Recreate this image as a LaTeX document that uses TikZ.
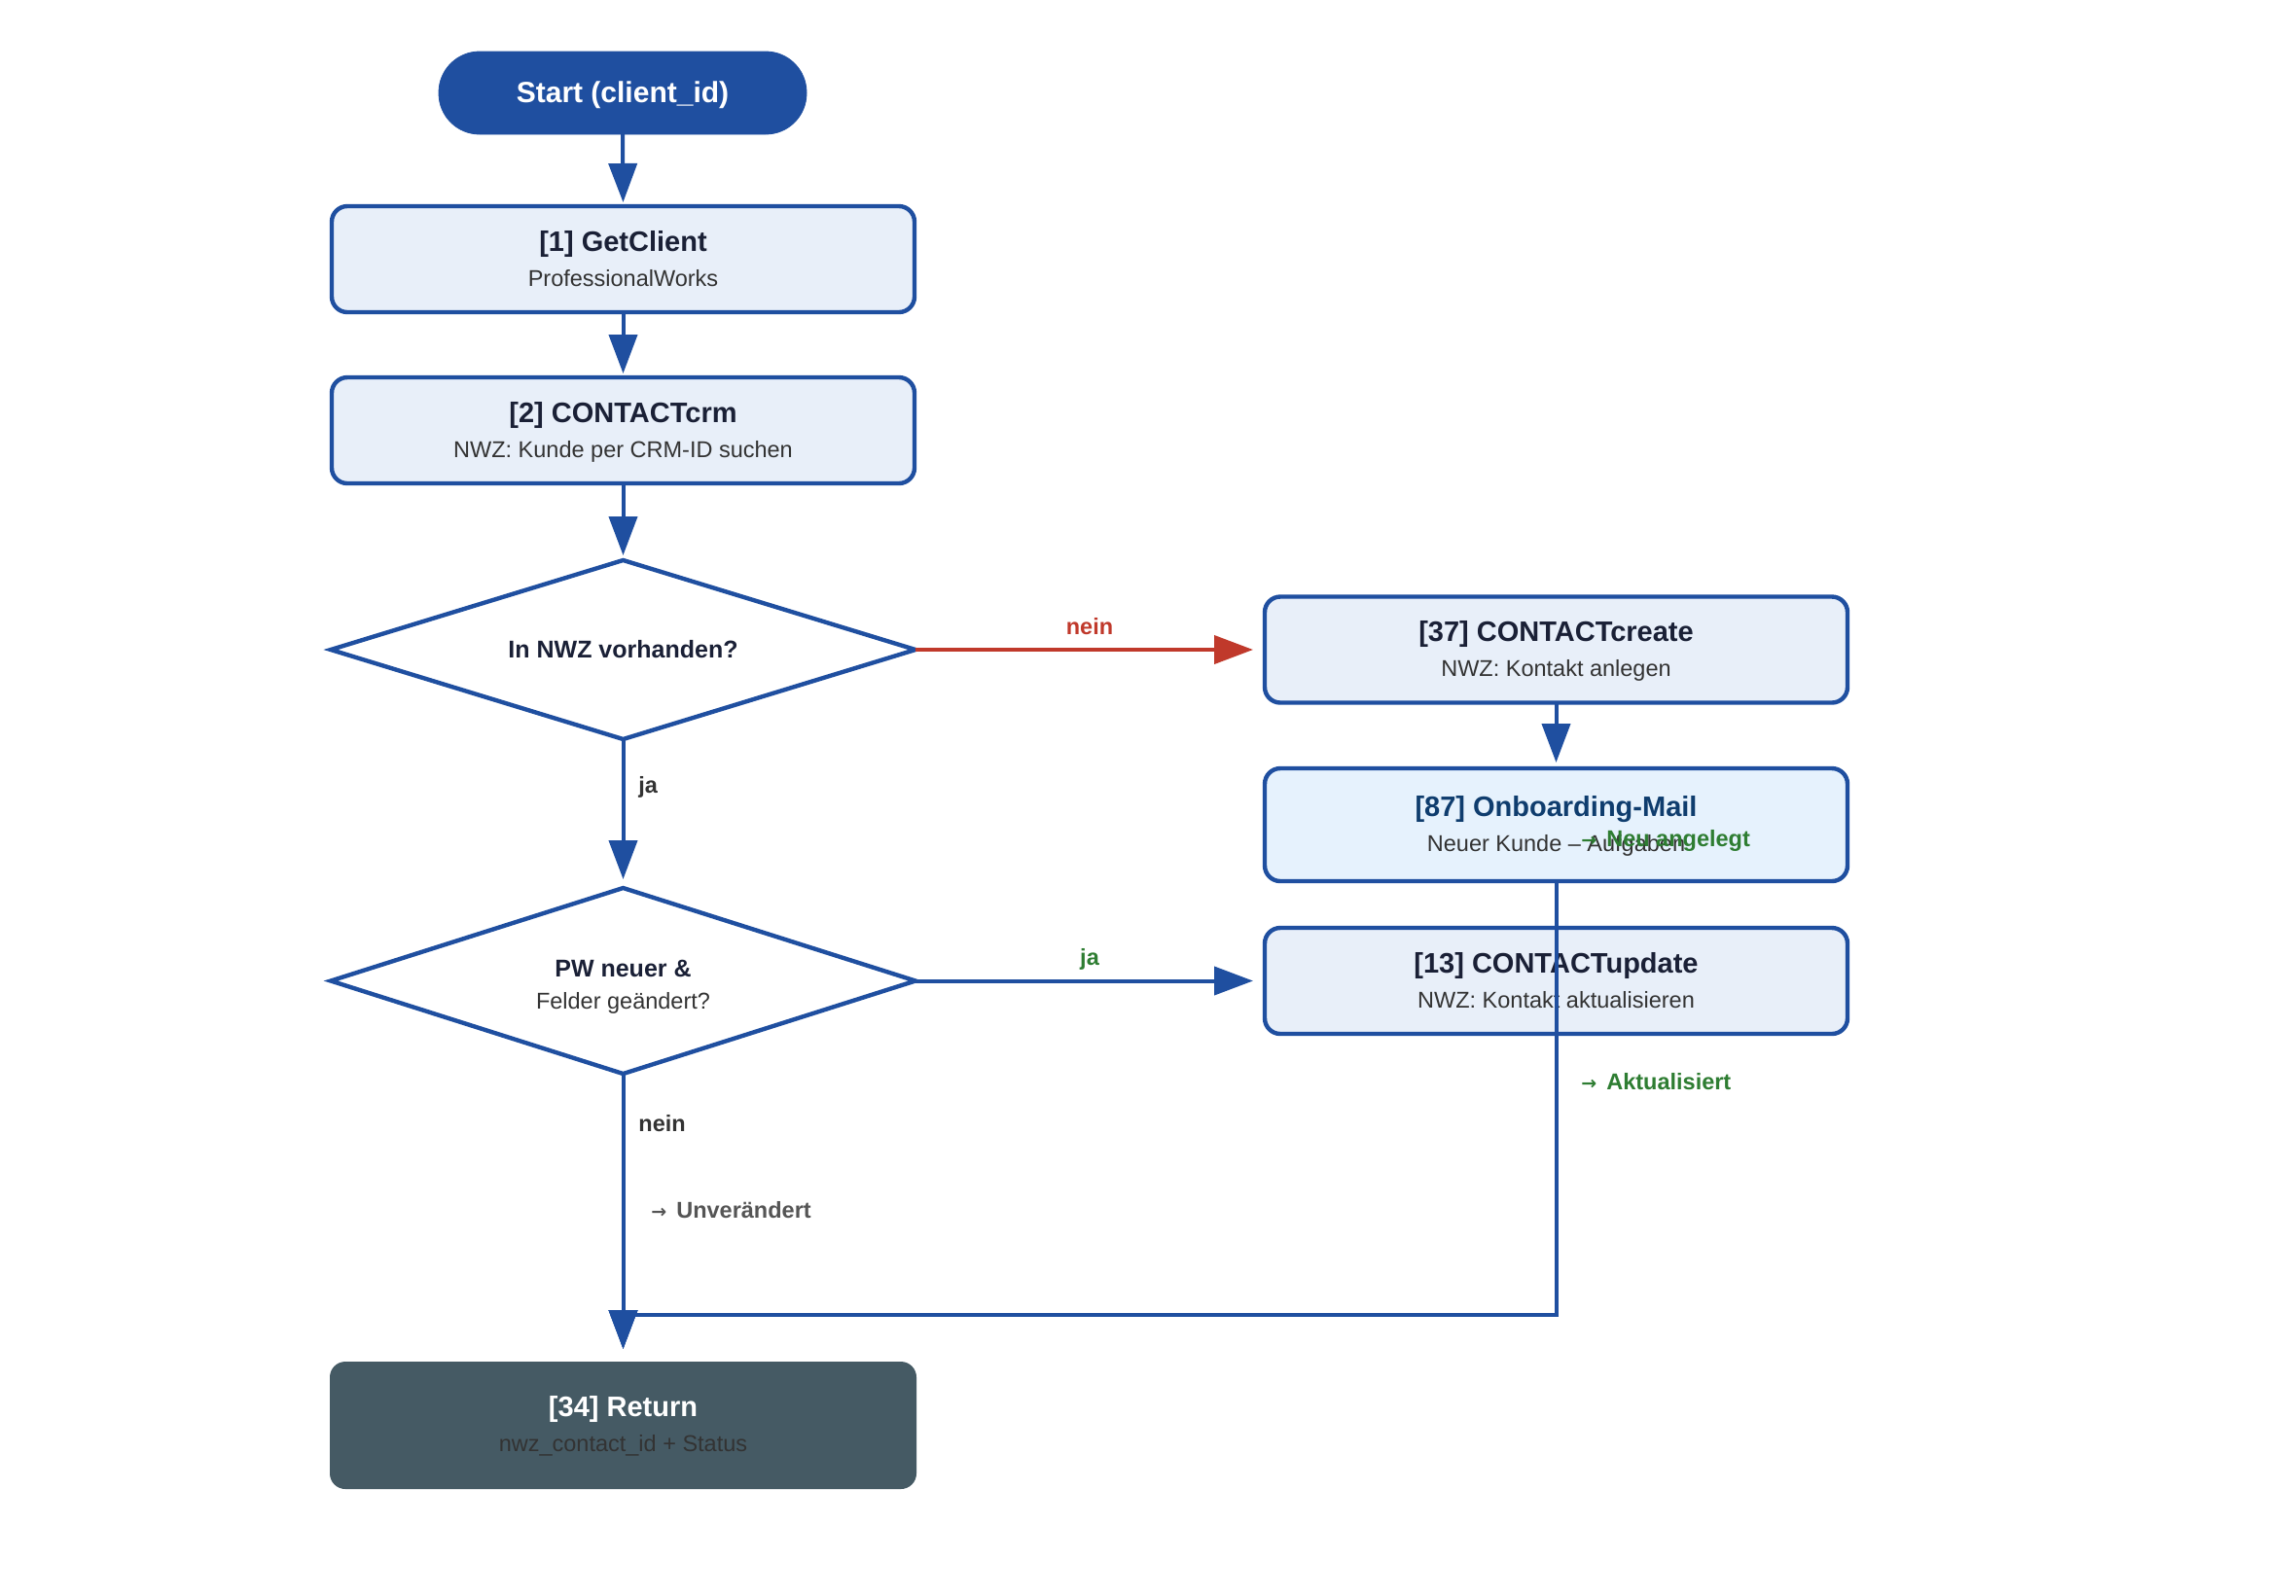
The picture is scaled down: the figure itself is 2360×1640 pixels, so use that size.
\documentclass[tikz,border=0pt]{standalone}
\usepackage{fontspec}
\setmainfont{Liberation Sans}
\newfontfamily\arrfont{DejaVu Sans}
\usetikzlibrary{arrows.meta,shapes.geometric}
\definecolor{cblue}{HTML}{1F4FA0}
\definecolor{cfill}{HTML}{E8EFF9}
\definecolor{cfillb}{HTML}{E6F2FD}
\definecolor{ctitle}{HTML}{1A2036}
\definecolor{conb}{HTML}{0F3D6E}
\definecolor{csub}{HTML}{333333}
\definecolor{cred}{HTML}{C0392B}
\definecolor{cgreen}{HTML}{2E7D32}
\definecolor{cgray}{HTML}{555555}
\definecolor{cret}{HTML}{455A64}
\newcommand{\smarr}{{\arrfont\fontsize{9.5}{10}\selectfont →}\hspace{5pt}}
\begin{document}
\begin{tikzpicture}[x=0.5pt,y=-0.5pt,
 box/.style={draw=cblue, line width=2.2pt, fill=cfill, rounded corners=8pt, minimum width=299.5pt, minimum height=54.5pt, inner sep=0pt, outer sep=0pt},
 dia/.style={diamond, draw=cblue, line width=2.2pt, fill=white, minimum width=300.5pt, inner sep=0pt, outer sep=0pt},
 ttl/.style={anchor=base, inner sep=0pt, font=\fontsize{14.5}{17}\selectfont\bfseries, text=ctitle},
 sub/.style={anchor=base, inner sep=0pt, font=\fontsize{11.75}{14}\selectfont, text=csub},
 dtl/.style={anchor=base, inner sep=0pt, font=\fontsize{12.5}{15}\selectfont\bfseries, text=ctitle},
 conn/.style={draw=cblue, line width=2pt, -{Triangle[length=20pt,width=14.5pt]}},
 lbl/.style={anchor=base west, inner sep=0pt, font=\fontsize{11.75}{14}\selectfont\bfseries},
]
\useasboundingbox (0,0) rectangle (2360,1640);
\fill[white] (0,0) rectangle (2360,1640);

% nodes
\node[fill=cblue, draw=cblue, rounded corners=21pt, minimum width=189pt, minimum height=42.5pt, inner sep=0pt, outer sep=0pt] (start) at (640,95.5) {};
\node[anchor=base, inner sep=0pt, text=white, font=\fontsize{15}{18}\selectfont\bfseries] (startt) at ([yshift=-4.75pt]start.center) {Start (client\_id)};

\node[box] (n1) at (640.5,266.5) {};
\node[ttl] (n1t) at ([yshift=4.25pt]n1.center) {[1] GetClient};
\node[sub] (n1s) at ([yshift=-13.75pt]n1.center) {ProfessionalWorks};

\node[box] (n2) at (640.5,442.5) {};
\node[ttl] (n2t) at ([yshift=4.25pt]n2.center) {[2] CONTACTcrm};
\node[sub] (n2s) at ([yshift=-13.75pt]n2.center) {NWZ: Kunde per CRM-ID suchen};

\node[dia, minimum height=92pt] (d1) at (640.5,668) {};
\node[dtl, anchor=center] (d1t) at (d1.center) {In NWZ vorhanden?};

\node[dia, minimum height=95.5pt] (d2) at (640.5,1008.5) {};
\node[dtl] (d2t) at ([yshift=2.25pt]d2.center) {PW neuer \&};
\node[sub] (d2s) at ([yshift=-14.25pt]d2.center) {Felder geändert?};

\node[box] (n37) at (1599.5,668) {};
\node[ttl] (n37t) at ([yshift=4.25pt]n37.center) {[37] CONTACTcreate};
\node[sub] (n37s) at ([yshift=-13.75pt]n37.center) {NWZ: Kontakt anlegen};

\node[box, fill=cfillb, minimum height=58pt] (n87) at (1599.5,848) {};
\node[ttl, text=conb] (n87t) at ([yshift=4.25pt]n87.center) {[87] Onboarding-Mail};
\node[sub] (n87s) at ([yshift=-13.75pt]n87.center) {Neuer Kunde – Aufgaben};

\node[box] (n13) at (1599.5,1008.5) {};
\node[ttl] (n13t) at ([yshift=4.25pt]n13.center) {[13] CONTACTupdate};
\node[sub] (n13s) at ([yshift=-13.75pt]n13.center) {NWZ: Kontakt aktualisieren};

\node[fill=cret, rounded corners=8pt, minimum width=301.5pt, minimum height=65.5pt, inner sep=0pt, outer sep=0pt] (ret) at (640.5,1465.5) {};
\node[ttl, text=white] (rett) at ([yshift=4.5pt]ret.center) {[34] Return};
\node[sub] (rets) at ([yshift=-13.5pt]ret.center) {nwz\_contact\_id + Status};

% connectors
\draw[conn, shorten >=2pt] (start.south) -- (n1.north);
\draw[conn, shorten >=2pt] (n1.south) -- (n2.north);
\draw[conn, shorten >=2.5pt] (n2.south) -- (d1.north);
\draw[conn, shorten >=4.5pt] (d1.south) -- (d2.north);
\draw[conn, draw=cred, color=cred, shorten >=6pt] (d1.east) -- (n37.west);
\draw[conn, shorten >=3pt] (n37.south) -- (n87.north);
\draw[conn, shorten >=6pt] (d2.east) -- (n13.west);
\draw[conn, shorten >=6.5pt] (d2.south) -- (ret.north);
\coordinate (m) at (640.5,1351.5);
\draw[conn, shorten >=6.5pt] (n87.south) |- (m) -- (ret.north);
\draw[conn, shorten >=6.5pt] (n13.south) |- (m) -- (ret.north);

% labels
\node[lbl, anchor=base, text=cred] (lnein1) at (1120,652) {nein};
\node[lbl, anchor=base, text=cgreen] (lja2) at (1120,992) {ja};
\node[lbl, text=csub] (lja1) at (656,815) {ja};
\node[lbl, text=csub] (lnein2) at (656,1163) {nein};
\node[lbl, text=cgray] (lunv) at (669,1252) {\smarr Unverändert};
\node[lbl, text=cgreen] (lakt) at (1625,1120) {\smarr Aktualisiert};
\node[lbl, text=cgreen] (lneu) at (1625,870) {\smarr Neu angelegt};
\end{tikzpicture}
\end{document}
